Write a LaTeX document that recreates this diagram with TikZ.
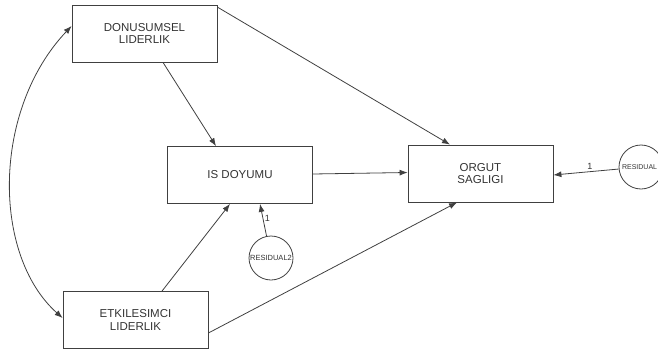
\documentclass[tikz,border=0pt]{standalone}
\usepackage{fontspec}
\setmainfont{Liberation Sans}
\usetikzlibrary{arrows.meta}
\begin{document}
\begin{tikzpicture}[x=1pt,y=-1pt,
  line width=0.8pt,
  ink/.style={draw=black!75},
  box/.style={ink, rectangle, minimum width=145pt, minimum height=57pt, align=center, font=\fontsize{11.5}{12.5}\selectfont, text=black!80, inner sep=0pt},
  resid/.style={ink, circle, minimum size=44pt, inner sep=0pt, font=\fontsize{7.5}{8}\selectfont, text=black!80},
  arr/.style={ink, -{Latex[length=8pt,width=6pt]}},
  lbl/.style={font=\fontsize{9}{10}\selectfont, text=black!80, inner sep=1.5pt}]
\useasboundingbox (0,0) rectangle (658,353);
\clip (0,0) rectangle (658,353);
\node[box] (dl) at (144.5,33.5) {DONUSUMSEL\\LIDERLIK};
\node[box] (is) at (240,175) {IS DOYUMU};
\node[box] (os) at (480.5,173.5) {ORGUT\\SAGLIGI};
\node[box] (el) at (135.5,320) {ETKILESIMCI\\LIDERLIK};
\node[resid] (r2) at (271,258) {RESIDUAL2};
\node[resid, font=\fontsize{7}{8}\selectfont] (r1) at (641,167) {};
\node[font=\fontsize{7}{8}\selectfont, text=black!80, anchor=east, inner sep=0pt] (r1t) at (657.5,167) {RESIDUAL};
\draw[arr] ([xshift=18.5pt]dl.south) -- ([xshift=-24pt]is.north);
\draw[arr] ([yshift=-2.5pt]dl.north east) -- ([xshift=-30.5pt]os.north);
\draw[arr] ([yshift=1pt]is.east) -- ([yshift=1pt]os.west);
\draw[arr] ([xshift=26.5pt]el.north) -- ([xshift=-10pt]is.south);
\draw[arr] (el.east |- 0,333) -- ([xshift=-23.5pt]os.south);
\draw[arr] (r2) -- node[lbl, right, pos=0.55] {1} ([xshift=20pt]is.south);
\draw[arr] (r1) -- node[lbl, above, pos=0.44] {1} ([yshift=-1.5pt]os.east);
\draw[ink, {Latex[length=8pt,width=6pt]}-{Latex[length=8pt,width=6pt]}] ([yshift=7.5pt]dl.west) .. controls (-8,110) and (-8,255) .. ([yshift=2pt]el.west);
\end{tikzpicture}
\end{document}
